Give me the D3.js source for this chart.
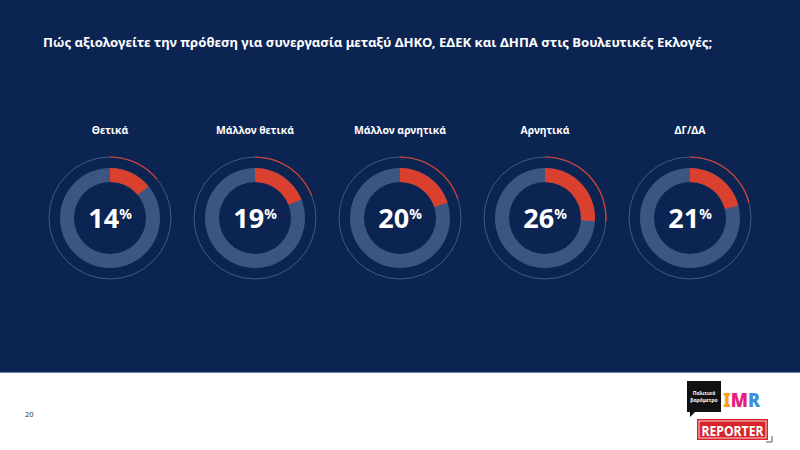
<!DOCTYPE html>
<html><head><meta charset="utf-8">
<script src="https://cdn.jsdelivr.net/npm/d3@7"></script>
<style>
html,body{margin:0;padding:0;background:#fff;}
svg{display:block;}
text{font-family:"Noto Sans",sans-serif;}
</style></head>
<body>
<svg id="chart" width="800" height="450"></svg>
<script>
const title = "Πώς αξιολογείτε την πρόθεση για συνεργασία μεταξύ ΔΗΚΟ, ΕΔΕΚ και ΔΗΠΑ στις Βουλευτικές Εκλογές;";
const categories = ["Θετικά", "Μάλλον θετικά", "Μάλλον αρνητικά", "Αρνητικά", "ΔΓ/ΔΑ"];
const values = [14, 19, 20, 26, 21];
const pageNumber = "20";

const W = 800, H = 450;
const svg = d3.select("#chart");
const navy = "#0c2452", red = "#d9402e", ringGrey = "#3d5582", thin = "#42598a";

svg.append("rect").attr("width", W).attr("height", 373).attr("fill", navy);
svg.append("rect").attr("y", 372).attr("width", W).attr("height", 1).attr("fill", "#6a82ac");

svg.append("text").attr("x", 43).attr("y", 47)
  .attr("fill", "#fff").attr("font-size", 13.15).attr("font-weight", 700)
  .text(title);

const x = d3.scalePoint().domain(categories).range([110, 690]);
const cy = 218;
const pct = d3.scaleLinear().domain([0, 100]).range([0, 2 * Math.PI]);

const rOut = 50, rIn = 36, rThin = 61;
const ring = d3.arc().innerRadius(rIn).outerRadius(rOut).startAngle(0);
const thinArc = d3.arc().innerRadius(rThin - 0.6).outerRadius(rThin + 0.6).startAngle(0);

const g = svg.selectAll("g.donut").data(categories.map((c, i) => ({c, v: values[i]})))
  .enter().append("g").attr("class", "donut")
  .attr("transform", d => `translate(${x(d.c)},${cy})`);

g.append("text").attr("y", -84).attr("text-anchor", "middle")
  .attr("fill", "#fff").attr("font-size", 10.4).attr("font-weight", 700)
  .text(d => d.c);

g.append("circle").attr("r", rThin).attr("fill", "none")
  .attr("stroke", thin).attr("stroke-width", 1);
g.append("path").attr("d", d => thinArc({endAngle: pct(d.v)})).attr("fill", red);

g.append("path").attr("d", ring({endAngle: 2 * Math.PI})).attr("fill", ringGrey);
g.append("path").attr("d", d => ring({endAngle: pct(d.v)})).attr("fill", red);

const t = g.append("text").attr("y", 10).attr("text-anchor", "middle")
  .attr("fill", "#fff").attr("font-weight", 700);
t.append("tspan").attr("font-size", 27).text(d => d.v);
t.append("tspan").attr("font-size", 14).attr("dy", -9).text("%");

// footer
svg.append("text").attr("x", 25).attr("y", 417).attr("fill", "#2a3550")
  .attr("font-size", 7.5).text(pageNumber);

// logos
const lg = svg.append("g");
lg.append("path").attr("d", "M687,381 H721 V412 H695 L690,417 V412 H687 Z").attr("fill", "#111");
lg.append("text").attr("x", 704).attr("y", 395).attr("text-anchor", "middle")
  .attr("fill", "#fff").attr("font-size", 5).attr("font-weight", 700).text("Πολιτικό");
lg.append("text").attr("x", 704).attr("y", 402).attr("text-anchor", "middle")
  .attr("fill", "#fff").attr("font-size", 5).attr("font-weight", 700).text("βαρόμετρο");
const imr = lg.append("text").attr("x", 723).attr("y", 407)
  .attr("font-size", 19).attr("font-weight", 900).attr("font-family", "Roboto, sans-serif")
  .attr("textLength", 37).attr("lengthAdjust", "spacingAndGlyphs");
imr.append("tspan").attr("fill", "#f6a21b").text("I");
imr.append("tspan").attr("fill", "#e8207d").text("M");
imr.append("tspan").attr("fill", "#3d8fd6").text("R");
lg.append("rect").attr("x", 697).attr("y", 419).attr("width", 71).attr("height", 21).attr("fill", "#d7242a");
lg.append("rect").attr("x", 699).attr("y", 421).attr("width", 67).attr("height", 17).attr("fill", "none")
  .attr("stroke", "#fff").attr("stroke-width", 0.8);
lg.append("text").attr("x", 732.5).attr("y", 436).attr("text-anchor", "middle")
  .attr("fill", "#fff").attr("font-size", 15).attr("font-weight", 700)
  .attr("font-family", "'Liberation Sans Narrow','Roboto Condensed',Roboto,sans-serif")
  .attr("textLength", 62).attr("lengthAdjust", "spacingAndGlyphs").text("REPORTER");
lg.append("path").attr("d", "M772,436 V442 H766").attr("fill", "none").attr("stroke", "#555").attr("stroke-width", 1);
</script>
</body></html>
